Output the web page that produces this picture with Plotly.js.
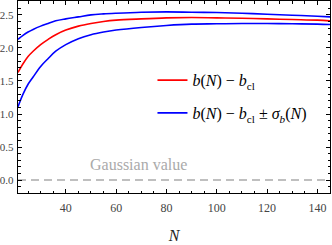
<!DOCTYPE html>
<html>
<head>
<meta charset="utf-8">
<script src="https://cdn.plot.ly/plotly-3.0.1.min.js"></script>
<style>html,body{margin:0;padding:0;background:#fff}#chart{width:332px;height:245px}</style>
</head>
<body>
<div id="chart"></div>
<script>
const N = [21, 23, 25, 27, 30, 33, 36, 40, 45, 50, 55, 60, 70, 80, 90, 100, 110, 120, 130, 140, 145];
const bMean = [1.63, 1.76, 1.87, 1.95, 2.05, 2.13, 2.20, 2.27, 2.33, 2.37, 2.40, 2.42, 2.44, 2.455, 2.46, 2.455, 2.45, 2.44, 2.43, 2.42, 2.41];
const bUpper = [2.13, 2.19, 2.24, 2.28, 2.33, 2.37, 2.41, 2.44, 2.47, 2.50, 2.515, 2.525, 2.54, 2.545, 2.54, 2.535, 2.525, 2.51, 2.495, 2.48, 2.47];
const bLower = [1.11, 1.30, 1.45, 1.56, 1.72, 1.84, 1.95, 2.05, 2.14, 2.20, 2.24, 2.27, 2.31, 2.34, 2.36, 2.365, 2.37, 2.37, 2.365, 2.36, 2.355];
const gaussN = [21, 145];
const gaussVal = [0, 0];

const serif = "Liberation Serif, Times New Roman, serif";

const traces = [
  {x: gaussN, y: gaussVal, mode: 'lines', line: {color: '#aaaaaa', width: 1.5, dash: '8px,5px'}, showlegend: false, hoverinfo: 'skip'},
  {x: N, y: bUpper, mode: 'lines', line: {color: '#0000ff', width: 1.6, shape: 'spline'}, showlegend: false, legendgroup: 'b'},
  {x: N, y: bLower, mode: 'lines', line: {color: '#0000ff', width: 1.6, shape: 'spline'}, name: '<i>b</i>(<i>N</i>) − <i>b</i><sub>cl</sub> ± <i>σ<sub>b</sub></i>(<i>N</i>)', legendgroup: 'b', legendrank: 2},
  {x: N, y: bMean, mode: 'lines', line: {color: '#ff0000', width: 1.6, shape: 'spline'}, name: '<i>b</i>(<i>N</i>) − <i>b</i><sub>cl</sub>', legendgroup: 'a', legendrank: 1}
];

const axisCommon = {
  showgrid: false, zeroline: false, showline: true, linecolor: '#000', linewidth: 1.2,
  mirror: 'ticks', ticks: 'inside', ticklen: 4, tickcolor: '#000', tickwidth: 1,
  tickfont: {family: serif, size: 12, color: '#444'}
};

const layout = {
  width: 332, height: 245,
  margin: {l: 18, r: 2, t: 1, b: 52},
  paper_bgcolor: '#fff', plot_bgcolor: '#fff',
  font: {family: serif},
  xaxis: Object.assign({}, axisCommon, {
    range: [21, 145], tick0: 0, dtick: 20,
    minor: {ticks: 'inside', ticklen: 2.5, dtick: 5, tickcolor: '#000', tickwidth: 1},
    ticklabelstandoff: 3,
    title: {text: '<i>N</i>', font: {family: serif, size: 16, color: '#222'}, standoff: 16}
  }),
  yaxis: Object.assign({}, axisCommon, {
    range: [-0.195, 2.71], tick0: 0, dtick: 0.5, tickformat: '.1f',
    tickfont: {family: serif, size: 11, color: '#444'},
    minor: {ticks: 'inside', ticklen: 2.5, dtick: 0.1, tickcolor: '#000', tickwidth: 1},
    ticklabelstandoff: 1
  }),
  showlegend: true,
  legend: {
    x: 0.431, y: 0.676, xanchor: 'left', yanchor: 'top',
    bgcolor: 'rgba(0,0,0,0)', traceorder: 'grouped', tracegroupgap: 9,
    itemwidth: 30,
    font: {family: serif, size: 16, color: '#000'}
  },
  annotations: [
    {x: 69, y: 0.23, xref: 'x', yref: 'y', text: 'Gaussian value', showarrow: false,
     font: {family: serif, size: 16, color: '#aaaaaa'}}
  ]
};

Plotly.newPlot('chart', traces, layout, {displayModeBar: false, staticPlot: true});
</script>
</body>
</html>
